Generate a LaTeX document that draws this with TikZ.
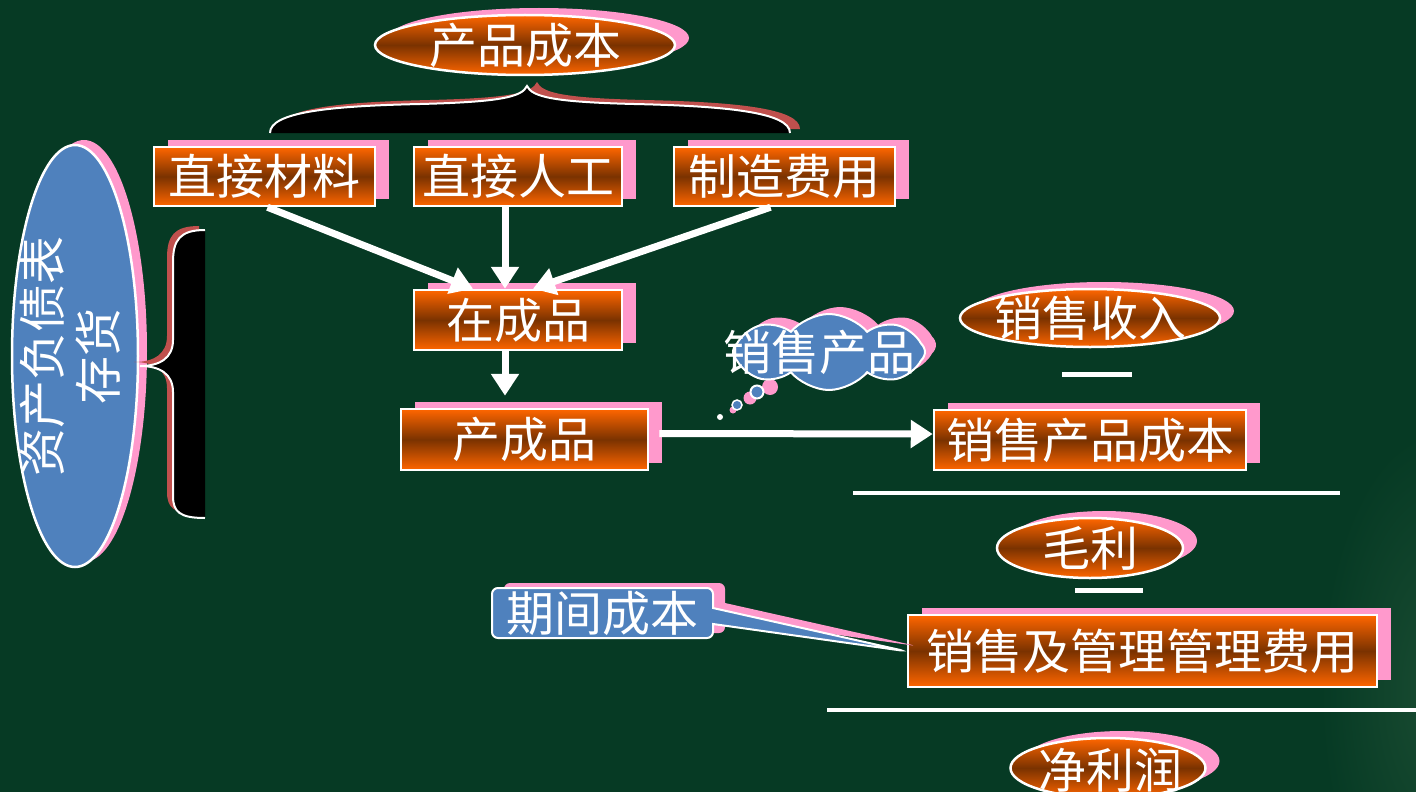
\documentclass[tikz,border=0pt]{standalone}
\usepackage{fontspec}
\newfontfamily\cjk{Noto Sans CJK SC}
\usetikzlibrary{shapes.geometric,shapes.symbols,shapes.callouts,shadows,arrows.meta,calc}
\definecolor{bg}{RGB}{6,58,36}
\definecolor{bglight}{RGB}{26,76,50}
\definecolor{org}{RGB}{255,102,0}
\definecolor{brn}{RGB}{122,50,0}
\definecolor{pnk}{RGB}{255,153,204}
\definecolor{blu}{RGB}{79,129,189}
\definecolor{brc}{RGB}{192,80,77}
\begin{document}
\begin{tikzpicture}[x=1pt,y=-1pt,
  txt/.style={font=\cjk\fontsize{48}{56}\selectfont, text=white, inner sep=0pt},
  grad/.style={top color=org, bottom color=org, middle color=brn},
  pshadow/.style={drop shadow={opacity=1, fill=pnk, shadow xshift=14pt, shadow yshift=7pt}},
  obox/.style={rectangle, draw=white, line width=2.5pt, grad, txt, pshadow},
  oell/.style={ellipse, draw=white, line width=2.5pt, grad, inner sep=0pt, pshadow},
  arr/.style={draw=white, line width=7pt, -{Triangle[width=27pt,length=22pt]}},
  sep/.style={draw=white, line width=4.5pt},
  bubble/.style={circle, draw=white, fill=blu, inner sep=0pt},
  pbub/.style={circle, fill=pnk, inner sep=0pt}
]
\useasboundingbox (0,0) rectangle (1416,792);
\fill[bg] (0,0) rectangle (1416,792);
\begin{scope}
\clip (0,0) rectangle (1416,792);
\shade[inner color=bglight, outer color=bg] (1440,690) ellipse (120 and 260);
\end{scope}

% ---- top ellipse and brace
\node[oell, minimum width=300pt, minimum height=60pt] (cpcb) at (525,45) {};
\node[txt] (cpcbT) at (cpcb) {产品成本};

\fill[brc, shift={(10,-4)}] (270,133) .. controls (270,112) and (330,106) .. (420,104) .. controls (500,102) and (522,97) .. (527,86) .. controls (532,97) and (554,102) .. (634,104) .. controls (724,106) and (790,112) .. (790,133) -- cycle;
\fill[black] (270,133) .. controls (270,112) and (330,106) .. (420,104) .. controls (500,102) and (522,97) .. (527,86) .. controls (532,97) and (554,102) .. (634,104) .. controls (724,106) and (790,112) .. (790,133) -- cycle;
\draw[white, line width=2pt] (270,133) .. controls (270,112) and (330,106) .. (420,104) .. controls (500,102) and (522,97) .. (527,86) .. controls (532,97) and (554,102) .. (634,104) .. controls (724,106) and (790,112) .. (790,133);

% ---- cost boxes
\node[obox, minimum width=221pt, minimum height=59pt] (zjcl) at (264.5,176.5) {直接材料};
\node[obox, minimum width=208pt, minimum height=59pt] (zjrg) at (518,176.5) {直接人工};
\node[obox, minimum width=221pt, minimum height=59pt] (zzfy) at (784.5,176.5) {制造费用};
\node[obox, minimum width=208pt, minimum height=60pt] (zcp) at (518,320) {在成品};
\node[obox, minimum width=247pt, minimum height=61pt] (ccp) at (524.5,439.5) {产成品};

\draw[arr] ([xshift=3pt]zjcl.south) -- ([xshift=-45pt]zcp.north);
\draw[arr] ([xshift=-13pt]zjrg.south) -- ([xshift=-13pt]zcp.north);
\draw[arr] ([xshift=-14pt]zzfy.south) -- ([xshift=15pt]zcp.north);
\draw[arr] ([xshift=-13pt]zcp.south) -- ([xshift=-19.5pt,yshift=12pt]ccp.north);

% ---- left ellipse and brace
\node[ellipse, draw=white, line width=2.5pt, fill=blu, inner sep=0pt,
      drop shadow={opacity=1, fill=pnk, shadow xshift=9pt, shadow yshift=5pt},
      minimum width=126pt, minimum height=422pt] (zcfz) at (75,356) {};
\node[txt, rotate=90, align=center] (zcfzT) at (70,356) {资产负债表\\存货};

\fill[brc, shift={(-6,-4)}] (205,230) .. controls (180,230) and (173,240) .. (173,262) -- (173,340) .. controls (173,358) and (160,366) .. (140,366) .. controls (160,366) and (173,374) .. (173,392) -- (173,496) .. controls (173,512) and (180,518) .. (205,518) -- cycle;
\fill[black] (205,230) .. controls (180,230) and (173,240) .. (173,262) -- (173,340) .. controls (173,358) and (160,366) .. (140,366) .. controls (160,366) and (173,374) .. (173,392) -- (173,496) .. controls (173,512) and (180,518) .. (205,518) -- cycle;
\draw[white, line width=2pt] (205,230) .. controls (180,230) and (173,240) .. (173,262) -- (173,340) .. controls (173,358) and (160,366) .. (140,366) .. controls (160,366) and (173,374) .. (173,392) -- (173,496) .. controls (173,512) and (180,518) .. (205,518);

% ---- thought cloud
\node[pbub, minimum size=16pt] (pb1) at (770,387) {};
\node[pbub, minimum size=13pt] (pb2) at (750,398) {};
\node[pbub, minimum size=7pt] (pb3) at (733,410) {};
\node[cloud, cloud puffs=8, cloud puff arc=100, draw=white, line width=2pt, fill=blu, inner sep=0pt,
      drop shadow={opacity=1, fill=pnk, shadow xshift=11pt, shadow yshift=7pt},
      minimum width=192pt, minimum height=76pt] (cloud) at (829,352) {};
\node[bubble, line width=2pt, minimum size=13pt] (b1) at (757,392) {};
\node[bubble, line width=1.5pt, minimum size=10pt] (b2) at (737,405) {};
\node[circle, fill=white, minimum size=6pt, inner sep=0pt] (b3) at (720,417) {};
\node[txt] (cloudT) at (819,352) {销售产品};

% ---- right column
\node[oell, minimum width=260pt, minimum height=58pt] (xssr) at (1090,318) {};
\node[txt] (xssrT) at (xssr) {销售收入};
\coordinate (m1a) at (1062,374); \coordinate (m1b) at (1132,374);
\draw[sep, line width=5pt] (m1a) -- (m1b);

\node[obox, minimum width=312pt, minimum height=60pt] (xscb) at (1090,440) {销售产品成本};
\draw[arr] ([xshift=10pt,yshift=6pt]ccp.east) -- ([yshift=6pt]xscb.west);

\coordinate (l1a) at (853,493); \coordinate (l1b) at (1340,493);
\draw[sep] (l1a) -- (l1b);

\node[oell, minimum width=186pt, minimum height=60pt] (ml) at (1090,548) {};
\node[txt] (mlT) at (ml) {毛利};
\coordinate (m2a) at (1075,590); \coordinate (m2b) at (1143,590);
\draw[sep, line width=5pt] (m2a) -- (m2b);

\node[obox, minimum width=469pt, minimum height=72pt] (xsgl) at (1142.5,651) {销售及管理管理费用};

\node[rectangle callout, rounded corners=6pt, draw=white, line width=2pt, fill=blu, txt,
      drop shadow={opacity=1, fill=pnk, shadow xshift=12pt, shadow yshift=5pt},
      callout absolute pointer={([xshift=-2pt]xsgl.west)}, callout pointer width=16pt,
      minimum width=221pt, minimum height=50pt] (qjcb) at (602.5,613) {期间成本};

\coordinate (l2a) at (827,710); \coordinate (l2b) at (1416,710);
\draw[sep] (l2a) -- (l2b);

\node[oell, minimum width=195pt, minimum height=60pt] (jlr) at (1108,768) {};
\node[txt] (jlrT) at (1110,770) {净利润};
\end{tikzpicture}
\end{document}
